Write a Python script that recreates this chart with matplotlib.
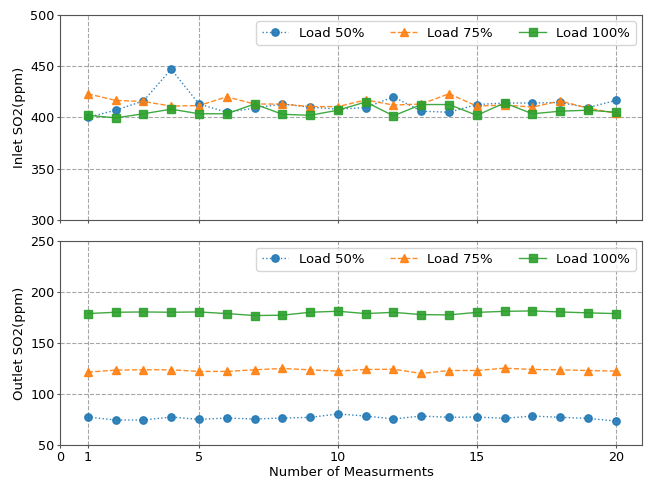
import matplotlib
matplotlib.use("Agg")
import matplotlib.pyplot as plt

x = list(range(1, 21))

inlet_50 = [400, 407, 416, 447, 413, 405, 409, 413, 410, 408,
            409.5, 420, 406, 405, 412.5, 414, 414, 414.5, 409.5, 416.5]
inlet_75 = [423, 416.5, 415.5, 411, 411.5, 420, 413, 413, 410.5, 410.5,
            417, 412, 413, 423, 411, 412, 410, 416, 409, 404]
inlet_100 = [402, 399.5, 403.5, 408, 403.5, 403.5, 413, 403, 402, 407,
             415, 401.5, 412.5, 412.5, 402, 414, 403.5, 406, 407, 405]

outlet_50 = [77.4, 74.5, 74.5, 77.4, 75.1, 76.4, 75.5, 76.4, 77.1, 80.4,
             78.4, 75.5, 78.4, 77.1, 77.4, 76.1, 78.4, 77.1, 76.1, 73.5]
outlet_75 = [121.4, 123.4, 123.7, 123.7, 122.1, 122.1, 123.7, 125, 123.7, 122.4,
             124, 124.3, 120.1, 123, 123, 125.3, 124, 123.7, 123, 122.4]
outlet_100 = [178.8, 180.1, 180.4, 180.1, 180.4, 178.8, 176.9, 177.2, 180.1, 181.1,
              178.8, 180, 177.8, 177.5, 180, 181, 181.4, 180.4, 179.5, 178.8]

labels = ["Load 50%", "Load 75%", "Load 100%"]
xticks = [0, 1, 5, 10, 15, 20]
inlet_yticks = [300, 350, 400, 450, 500]
outlet_yticks = [50, 100, 150, 200, 250]

FS = 9.5
TFS = 9.2

fig = plt.figure(figsize=(6.46, 4.79), dpi=100)
ax1 = fig.add_axes([0.093, 0.541, 0.901, 0.428])
ax2 = fig.add_axes([0.093, 0.071, 0.901, 0.426])

def draw(ax, s50, s75, s100, yticks, ylabel):
    ax.plot(x, s50, linestyle=':', marker='o', color='#1f77b4', label=labels[0],
            markersize=5.3, linewidth=1.0, alpha=0.9)
    ax.plot(x, s75, linestyle='--', marker='^', color='#ff7f0e', label=labels[1],
            markersize=5.3, linewidth=1.0, alpha=0.9)
    ax.plot(x, s100, linestyle='-', marker='s', color='#2ca02c', label=labels[2],
            markersize=5.3, linewidth=1.0, alpha=0.9)
    ax.set_xlim(0, 20.95)
    ax.set_ylim(yticks[0], yticks[-1])
    ax.set_xticks(xticks)
    ax.set_yticks(yticks)
    ax.set_ylabel(ylabel, fontsize=FS, labelpad=3)
    ax.grid(True, linestyle='--', color='gray', alpha=0.7, linewidth=0.8)
    ax.tick_params(labelsize=TFS, length=2.2, pad=1.8, color='#555555')
    for sp in ax.spines.values():
        sp.set_color('#555555')
    ax.legend(loc='upper right', ncol=3, fontsize=FS, framealpha=0.8)

draw(ax1, inlet_50, inlet_75, inlet_100, inlet_yticks, "Inlet SO2(ppm)")
draw(ax2, outlet_50, outlet_75, outlet_100, outlet_yticks, "Outlet SO2(ppm)")
ax1.set_xticklabels([])
ax2.set_xlabel("Number of Measurments", fontsize=FS, labelpad=2)

fig.savefig("out.png", dpi=100)
